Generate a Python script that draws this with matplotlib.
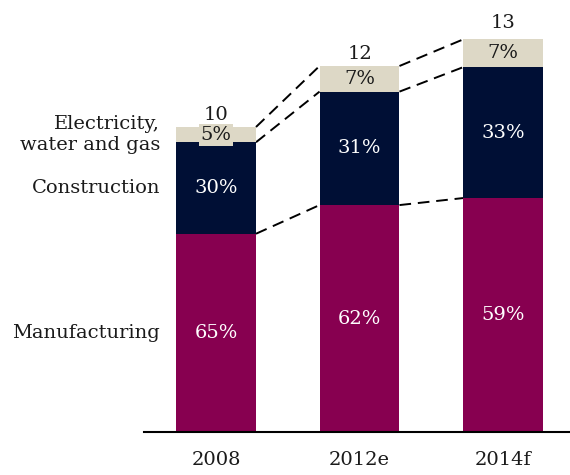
import matplotlib
matplotlib.use("Agg")
import matplotlib.pyplot as plt
import numpy as np

years = ["2008", "2012e", "2014f"]
totals = [10, 12, 13]
sectors = ["Manufacturing", "Construction", "Electricity,\nwater and gas"]
shares = {
    "Manufacturing": [65, 62, 59],
    "Construction": [30, 31, 33],
    "Electricity,\nwater and gas": [5, 7, 7],
}
colors = ["#870050", "#000F35", "#DDD8C6"]
text_colors = ["white", "white", "#1a1a1a"]

plt.rcParams["font.family"] = ["DejaVu Serif"]
FS = 14

W, H = 570, 475
fig = plt.figure(figsize=(W / 100, H / 100), dpi=100)
ax_left, ax_right, ax_bottom = 144, 570, 432
ax = fig.add_axes([ax_left / W, (H - ax_bottom) / H, (ax_right - ax_left) / W, 427 / H])

x = np.arange(len(years))
bar_w = 0.557
ax.set_xlim(-0.502, 2.467)
ax.set_ylim(0, 14)

bottoms = np.zeros(len(years))
tops_by_level = [bottoms.copy()]
for sector, col, tcol in zip(sectors, colors, text_colors):
    vals = np.array(totals) * np.array(shares[sector]) / 100.0
    ax.bar(x, vals, bottom=bottoms, width=bar_w, color=col, zorder=2)
    for xi, b, v, pct in zip(x, bottoms, vals, shares[sector]):
        kw = {}
        if col == "#DDD8C6":
            kw["bbox"] = dict(boxstyle="square,pad=0.1", facecolor=col, edgecolor="none")
        ax.text(xi, b + v / 2, f"{pct}%", ha="center", va="center",
                color=tcol, fontsize=FS, zorder=4, **kw)
    bottoms = bottoms + vals
    tops_by_level.append(bottoms.copy())

# totals above each bar
for xi, t in zip(x, totals):
    ax.text(xi, t + 0.1, f"{t}", ha="center", va="bottom", fontsize=FS,
            color="#1a1a1a", zorder=4)

# dashed connectors between neighbouring bars
for level in tops_by_level[1:]:
    for i in range(len(years) - 1):
        ax.plot([x[i] + bar_w / 2, x[i + 1] - bar_w / 2], [level[i], level[i + 1]],
                color="black", lw=1.4, dashes=(6, 3.5), zorder=1)

# sector names beside the first bar
for k, name in enumerate(sectors):
    ym = (tops_by_level[k][0] + tops_by_level[k + 1][0]) / 2
    ax.text(-0.39, ym, name, ha="right", va="center", fontsize=FS,
            color="#1a1a1a", linespacing=1.25)

ax.set_xticks(x)
ax.set_xticklabels(years, fontsize=FS, color="#1a1a1a")
ax.tick_params(axis="x", length=0, pad=14)
ax.set_yticks([])
for s in ["top", "right", "left"]:
    ax.spines[s].set_visible(False)
ax.spines["bottom"].set_linewidth(1.5)
ax.spines["bottom"].set_color("black")
ax.spines["bottom"].set_zorder(3)

fig.savefig("out.png", dpi=100)
